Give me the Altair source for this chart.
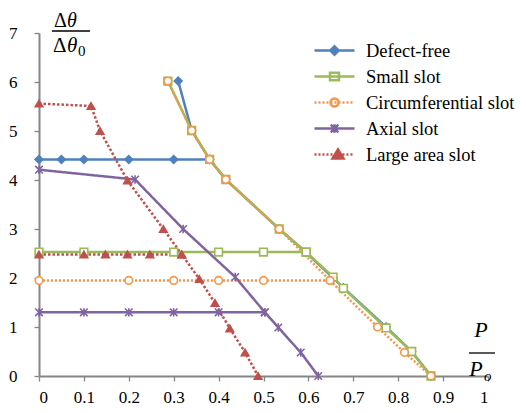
import altair as alt
import pandas as pd

SERIES = ["Defect-free", "Small slot", "Circumferential slot", "Axial slot", "Large area slot"]
COLORS = ["#4F81BD", "#9BBB59", "#F79646", "#8064A2", "#C0504D"]
FILLS = ["#4F81BD", "#FFFFFF", "#FFFFFF", "#8064A2", "#C0504D"]

# Defect-free
defect_h_x = [0, 0.05, 0.1, 0.2, 0.3, 0.38]
defect_h_y = [4.42, 4.42, 4.42, 4.42, 4.42, 4.42]
defect_d_x = [0.31, 0.34, 0.38, 0.416, 0.535, 0.595, 0.655, 0.678, 0.773, 0.83, 0.873]
defect_d_y = [6.02, 5.01, 4.42, 4.01, 3.0, 2.52, 2.0, 1.8, 1.0, 0.5, 0.0]

# Small slot
small_h_x = [0, 0.1, 0.3, 0.4, 0.5, 0.595]
small_h_y = [2.53, 2.53, 2.53, 2.53, 2.53, 2.53]
small_d_x = [0.287, 0.34, 0.38, 0.416, 0.535, 0.595, 0.655, 0.678, 0.773, 0.83, 0.873]
small_d_y = [6.02, 5.01, 4.42, 4.01, 3.0, 2.53, 2.02, 1.79, 0.98, 0.5, 0.0]

# Circumferential slot
circ_h_x = [0, 0.2, 0.3, 0.4, 0.5, 0.648]
circ_h_y = [1.95, 1.95, 1.95, 1.95, 1.95, 1.95]
circ_d_x = [0.287, 0.34, 0.38, 0.416, 0.535, 0.648, 0.754, 0.814, 0.873]
circ_d_y = [6.02, 5.01, 4.42, 4.01, 3.0, 1.95, 1.0, 0.48, 0.0]

# Axial slot
axial_h_x = [0, 0.1, 0.2, 0.3, 0.4, 0.503]
axial_h_y = [1.30, 1.30, 1.30, 1.30, 1.30, 1.30]
axial_d_x = [0, 0.214, 0.321, 0.437, 0.503, 0.533, 0.583, 0.622]
axial_d_y = [4.21, 4.01, 3.0, 2.02, 1.30, 0.99, 0.48, 0.0]

# Large area slot
large_h_x = [0, 0.1, 0.148, 0.197, 0.247, 0.318]
large_h_y = [2.48, 2.48, 2.48, 2.48, 2.48, 2.48]
large_d_x = [0, 0.116, 0.136, 0.197, 0.277, 0.318, 0.357, 0.392, 0.425, 0.459, 0.488]
large_d_y = [5.56, 5.51, 5.0, 3.99, 3.0, 2.48, 1.98, 1.49, 0.97, 0.48, 0.0]

X_TICKS = [0, 0.1, 0.2, 0.3, 0.4, 0.5, 0.6, 0.7, 0.8, 0.9, 1]
Y_TICKS = [0, 1, 2, 3, 4, 5, 6, 7]

rows = []
def add(series, seg, xs, ys):
    for i, (x, y) in enumerate(zip(xs, ys)):
        rows.append({"series": series, "seg": series + "|" + seg, "i": i, "x": x, "y": y})

add(SERIES[0], "h", defect_h_x, defect_h_y)
add(SERIES[0], "d", defect_d_x, defect_d_y)
add(SERIES[1], "h", small_h_x, small_h_y)
add(SERIES[1], "d", small_d_x, small_d_y)
add(SERIES[2], "h", circ_h_x, circ_h_y)
add(SERIES[2], "d", circ_d_x, circ_d_y)
add(SERIES[3], "h", axial_h_x, axial_h_y)
add(SERIES[3], "d", axial_d_x, axial_d_y)
add(SERIES[4], "h", large_h_x, large_h_y)
add(SERIES[4], "d", large_d_x, large_d_y)
data = pd.DataFrame(rows)

FONT = "Liberation Serif"

xenc = alt.X("x:Q", scale=alt.Scale(domain=[0, 1], nice=False),
             axis=alt.Axis(values=X_TICKS, format="~g", title=None, labelFont=FONT,
                           labelFontSize=17, labelPadding=8))
yenc = alt.Y("y:Q", scale=alt.Scale(domain=[0, 7], nice=False),
             axis=alt.Axis(values=Y_TICKS, format="~g", title=None, labelFont=FONT,
                           labelFontSize=17, labelPadding=17))

lines = alt.Chart(data).mark_line(strokeCap="butt", strokeJoin="round").encode(
    x=xenc, y=yenc,
    stroke=alt.Stroke("series:N", scale=alt.Scale(domain=SERIES, range=COLORS), legend=None),
    strokeDash=alt.StrokeDash("series:N", scale=alt.Scale(domain=SERIES, range=[[1, 0], [1, 0], [2, 2], [1, 0], [2.5, 2]]), legend=None),
    strokeWidth=alt.StrokeWidth("series:N", scale=alt.Scale(domain=SERIES, range=[2.5, 2.5, 2.2, 2.5, 2.5]), legend=None),
    detail="seg:N",
    order="i:Q",
)

AST = "M-1,-1L1,1M-1,1L1,-1M0,-1.1L0,1.1"
points = alt.Chart(data).mark_point(filled=True, opacity=1, strokeWidth=1.6).encode(
    x=xenc, y=yenc,
    shape=alt.Shape("series:N", scale=alt.Scale(domain=SERIES, range=["diamond", "square", "circle", AST, "triangle-up"]), legend=None),
    stroke=alt.Stroke("series:N", scale=alt.Scale(domain=SERIES, range=COLORS), legend=None),
    fill=alt.Fill("series:N", scale=alt.Scale(domain=SERIES, range=FILLS), legend=None),
    size=alt.Size("series:N", scale=alt.Scale(domain=SERIES, range=[60, 56, 56, 64, 90]), legend=None),
)

def dotted(step=0.4, dash=0.2):
    parts = []
    x = -2.0
    while x < 2.0 - 1e-9:
        parts.append("M%.2f,0L%.2f,0" % (x, min(x + dash, 2.0)))
        x += step
    return "".join(parts)

SOLID = "M-2,0L2,0"
DOT = dotted()
LEG_PATHS = [
    SOLID + "M0,-0.42L0.42,0L0,0.42L-0.42,0Z",
    SOLID + "M-0.45,-0.38L0.45,-0.38L0.45,0.38L-0.45,0.38Z",
    DOT + "M-0.4,0A0.4,0.4,0,1,0,0.4,0A0.4,0.4,0,1,0,-0.4,0Z",
    SOLID + "M-0.38,-0.38L0.38,0.38M-0.38,0.38L0.38,-0.38M0,-0.42L0,0.42",
    DOT + "M0.35,-0.5L0.9,0.4L-0.2,0.4Z",
]

leg = alt.Legend(title=None, labelFont=FONT, labelFontSize=18.5)
legend_layer = alt.Chart(data).transform_filter("false").mark_point(filled=True, opacity=1, strokeWidth=2.5).encode(
    x=xenc, y=yenc,
    shape=alt.Shape("series:N", scale=alt.Scale(domain=SERIES, range=LEG_PATHS), legend=leg),
    stroke=alt.Stroke("series:N", scale=alt.Scale(domain=SERIES, range=COLORS), legend=leg),
    fill=alt.Fill("series:N", scale=alt.Scale(domain=SERIES, range=FILLS), legend=leg),
)

def label(text, x, y, size=21, italic=False, align="left"):
    kw = dict(font=FONT, fontSize=size, align=align, baseline="alphabetic", color="black")
    if italic:
        kw["fontStyle"] = "italic"
    return alt.Chart(pd.DataFrame({"t": [text]})).mark_text(**kw).encode(
        text="t:N", x=alt.value(x), y=alt.value(y))

def bar(x1, x2, y):
    return alt.Chart(pd.DataFrame({"t": [0]})).mark_rule(color="black", strokeWidth=1.3).encode(
        x=alt.value(x1), x2=alt.value(x2), y=alt.value(y))

titles = [
    label("Δ", 15, -6, size=20), label("θ", 28, -6, size=20, italic=True),
    bar(13, 51, -2),
    label("Δ", 14, 19), label("θ", 28, 19, italic=True), label("0", 39, 23, size=15),
    label("P", 442, 304, size=22, italic=True, align="center"),
    bar(430, 456, 320),
    label("P", 437, 343, size=22, italic=True, align="center"), label("o", 445, 348, size=15, italic=True),
]

chart = alt.layer(lines, points, legend_layer, *titles).resolve_scale(
    stroke="independent", fill="independent", shape="independent",
    strokeDash="independent", strokeWidth="independent", size="independent",
).properties(
    width=449, height=343,
    autosize=alt.AutoSizeParams(type="none"),
    padding={"left": 31, "top": 25, "right": 30, "bottom": 29},
).configure(font=FONT).configure_view(strokeWidth=0).configure_axis(
    grid=False, domainColor="#868686", domainWidth=2, tickColor="#868686", tickWidth=1.3,
    tickSize=5, labelFont=FONT, labelFontSize=17, labelColor="black",
).configure_legend(
    orient="none", legendX=284, legendY=6, padding=0, labelFont=FONT, labelFontSize=18.5,
    labelColor="black", labelLimit=300, symbolSize=400, symbolStrokeWidth=2.5,
    rowPadding=5, labelOffset=20,
)

chart.save("out.html", embed_options={"renderer": "svg", "actions": False})
